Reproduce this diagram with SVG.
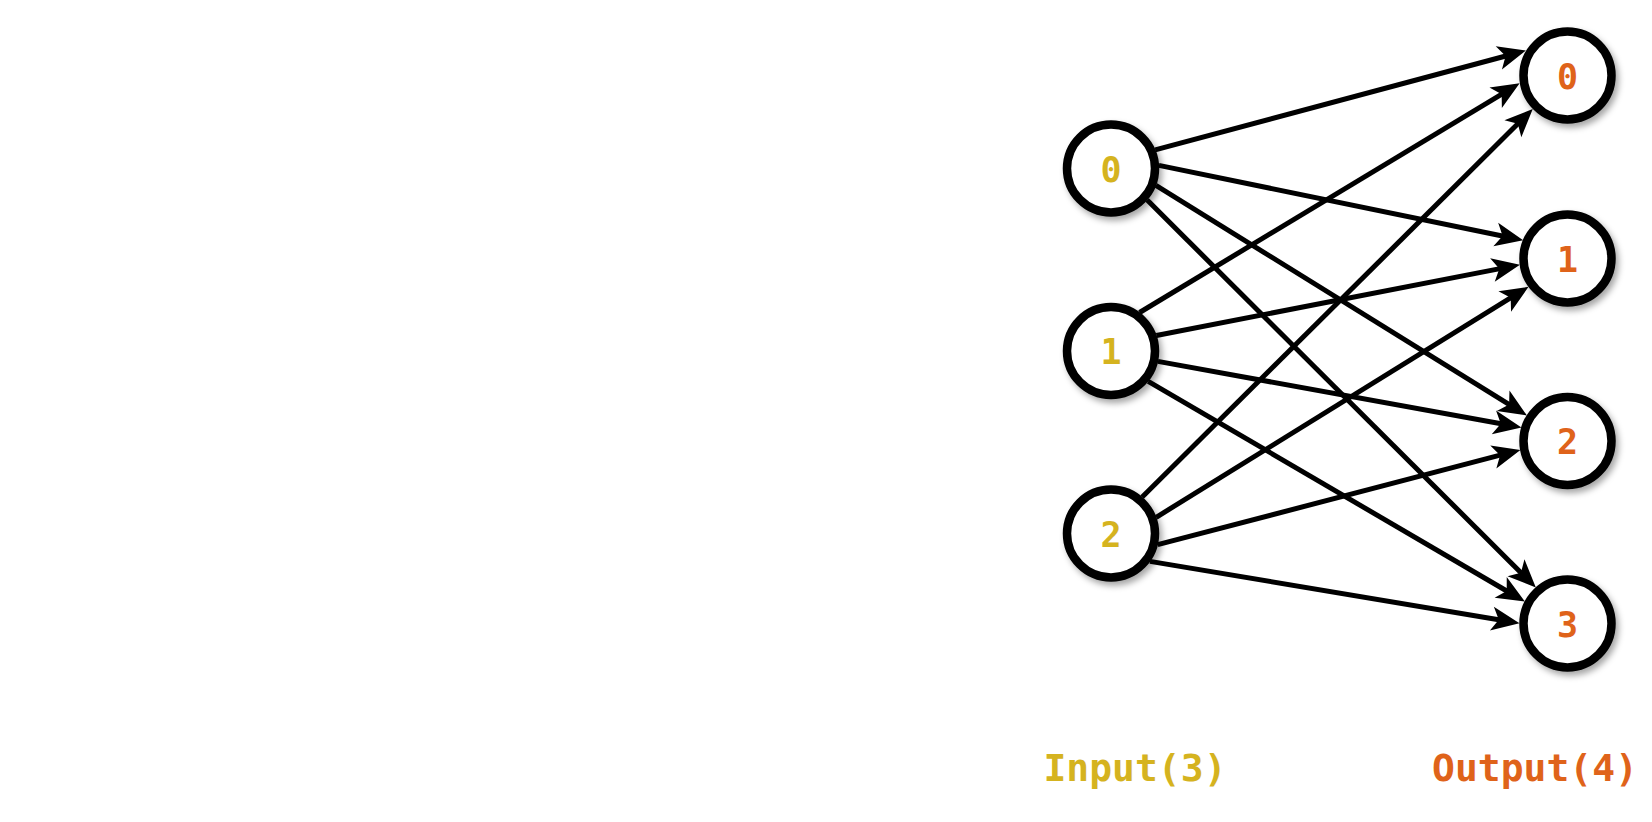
<svg xmlns="http://www.w3.org/2000/svg" width="1652" height="822" viewBox="0 0 1652 822">
  <style>
    .edge { fill: none; stroke: #000; stroke-width: 5; marker-end: url(#arrow); }
    .node circle { fill: #fff; stroke: #000; stroke-width: 8.5; filter: url(#shadow); }
    .node text { font-family: "DejaVu Sans Mono", "Liberation Mono", monospace; font-weight: bold; font-size: 35px; text-anchor: middle; }
    .in text { fill: #D5B31F; }
    .out text { fill: #DF631A; }
    .label { font-family: "DejaVu Sans Mono", "Liberation Mono", monospace; font-weight: bold; font-size: 38px; text-anchor: middle; }
  </style>
  <defs>
    <marker id="arrow" markerUnits="userSpaceOnUse" orient="auto" refX="0" refY="0" markerWidth="40" markerHeight="40" viewBox="-20 -20 40 40" overflow="visible">
      <path d="M15,0 L-13,-12 L-6,0 L-13,12 Z" fill="#000"/>
    </marker>
    <filter id="shadow" x="-30%" y="-30%" width="160%" height="160%">
      <feDropShadow dx="3" dy="4" stdDeviation="3" flood-color="#000" flood-opacity="0.35"/>
    </filter>
  </defs>
  <rect width="1652" height="822" fill="#fff"/>

  <!-- connections: every input feeds every output -->
  <g id="edges">
    <path class="edge" d="M1155.2,149.8 L1511.4,54.5"/>
    <path class="edge" d="M1158.9,165.4 L1508.5,237.2"/>
    <path class="edge" d="M1155.9,185.4 L1514.2,407.6"/>
    <path class="edge" d="M1147.2,200.1 L1525.2,576.9"/>
    <path class="edge" d="M1139.6,312.5 L1506.8,91.1"/>
    <path class="edge" d="M1156.4,335.5 L1505.2,267.6"/>
    <path class="edge" d="M1157.9,361.4 L1506.7,424.7"/>
    <path class="edge" d="M1148.2,381.3 L1511.9,594.0"/>
    <path class="edge" d="M1142.2,497.0 L1522.1,119.6"/>
    <path class="edge" d="M1156.2,517.3 L1515.8,294.7"/>
    <path class="edge" d="M1157.7,544.7 L1505.9,453.7"/>
    <path class="edge" d="M1150.0,561.4 L1504.7,620.8"/>
  </g>

  <!-- input layer -->
  <g id="in0" class="node in"><circle cx="1111" cy="168.5" r="44"/><text x="1111" y="181.5">0</text></g>
  <g id="in1" class="node in"><circle cx="1111" cy="351" r="44"/><text x="1111" y="364">1</text></g>
  <g id="in2" class="node in"><circle cx="1111" cy="533.5" r="44"/><text x="1111" y="546.5">2</text></g>

  <!-- output layer -->
  <g id="out0" class="node out"><circle cx="1567.5" cy="75.5" r="44"/><text x="1567.5" y="88.5">0</text></g>
  <g id="out1" class="node out"><circle cx="1567.5" cy="258.5" r="44"/><text x="1567.5" y="271.5">1</text></g>
  <g id="out2" class="node out"><circle cx="1567.5" cy="441" r="44"/><text x="1567.5" y="454">2</text></g>
  <g id="out3" class="node out"><circle cx="1567.5" cy="623.5" r="44"/><text x="1567.5" y="636.5">3</text></g>

  <!-- layer captions -->
  <g id="captions">
    <text class="label" x="1135" y="781" fill="#D5B31F">Input(3)</text>
    <text class="label" x="1535" y="781" fill="#DF631A">Output(4)</text>
  </g>
</svg>
